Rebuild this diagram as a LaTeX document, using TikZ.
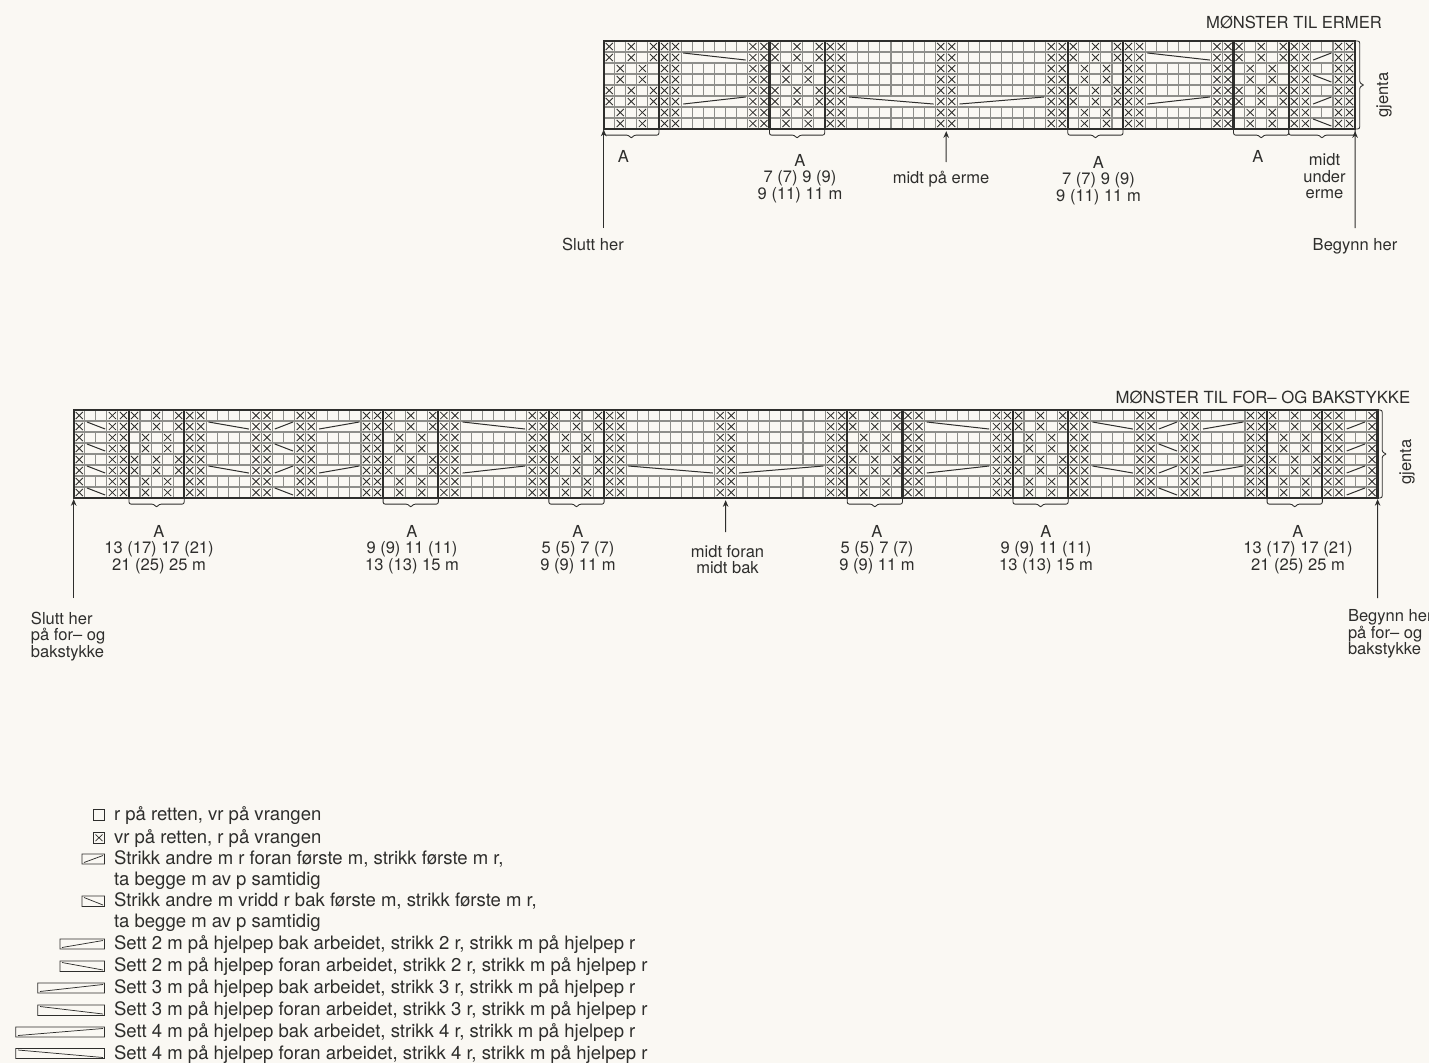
\documentclass[tikz,border=0pt]{standalone}
\usepackage{fontspec}
\setmainfont{TeX Gyre Heros}
\usetikzlibrary{arrows.meta}
\definecolor{paper}{HTML}{FAF8F3}
\definecolor{ink}{HTML}{2E2E2C}
\definecolor{gridc}{HTML}{8E8E8A}
\tikzset{
  txt/.style={inner sep=0pt,outer sep=0pt,text=ink,font=\fontsize{12.4}{12.4}\selectfont,align=center},
  keytxt/.style={inner sep=0pt,outer sep=0pt,text=ink,font=\fontsize{13.9}{13.9}\selectfont,anchor=base west,align=left},
  gridline/.style={draw=gridc,line width=0.8pt},
  xmark/.style={draw=ink,line width=0.65pt},
  heavy/.style={draw=ink,line width=1.7pt},
  slant/.style={draw=ink,line width=0.75pt},
  bracec/.style={draw=ink,line width=0.65pt,rounded corners=1.6pt},
  pointer/.style={draw=ink,line width=0.75pt,-{Stealth[length=5pt,width=4.2pt]}},
  keybox/.style={draw=ink,line width=0.55pt},
}
\newcommand\kX[2]{\draw[xmark] (#1+.18,#2+.18) -- (#1+.82,#2+.82) (#1+.18,#2+.82) -- (#1+.82,#2+.18);}
\newcommand\kXX[1]{\foreach \rr in {0,...,7} {\kX{#1}{\rr}\kX{#1+1}{\rr}}}
\newcommand\kA[1]{\foreach \pc/\pr in {0/0,2/0,4/0,0/1,2/1,4/1,1/2,3/2,1/3,3/3,0/4,2/4,4/4,0/5,2/5,4/5,1/6,3/6,1/7,3/7} {\kX{#1+\pc}{\pr}}}
\newcommand\kHeavyA[1]{\draw[heavy] (#1,0) -- (#1,8) (#1+5,0) -- (#1+5,8);}
\newcommand\kFill[3]{\fill[paper] (#1+.07,#3+.06) rectangle (#1+#2-.07,#3+.94);}
\newcommand\kDown[3]{\kFill{#1}{#2}{#3}\draw[slant] (#1+.2,#3+.09) -- (#1+#2-.15,#3+.73);}
\newcommand\kUp[3]{\kFill{#1}{#2}{#3}\draw[slant] (#1+.2,#3+.73) -- (#1+#2-.15,#3+.09);}
\newcommand\kGrid[1]{%
  \foreach \ii in {0,...,#1} {\draw[gridline] (\ii,0) -- (\ii,8);}
  \foreach \jj in {0,...,8} {\draw[gridline] (0,\jj) -- (#1,\jj);}}
\newcommand\kBrace[2]{\draw[bracec] (#1,8.1) -- (#1,8.56) -- ({(#1+#2)/2-.22},8.56) -- ({(#1+#2)/2},8.88) -- ({(#1+#2)/2+.22},8.56) -- (#2,8.56) -- (#2,8.1);}
\newcommand\kSide[1]{\draw[bracec] (#1,0) -- (#1+.42,0) -- (#1+.42,3.85) -- (#1+.85,4) -- (#1+.42,4.15) -- (#1+.42,8) -- (#1+.1,8);}
\begin{document}
\begin{tikzpicture}[x=.75pt,y=-.75pt]
\useasboundingbox (0,0) rectangle (1429,1063);
\fill[paper] (0,0) rectangle (1429,1063);

% ---------- sleeve chart
\begin{scope}[shift={(603.7,41)},x=8.2875pt,y=-8.25pt]
  \kGrid{68}
  \foreach \cc in {5,13,20,30,40,47,55,62,66} {\kXX{\cc}}
  \foreach \cc in {0,15,42,57} {\kA{\cc}}
  \foreach \cc in {7,49} {\kDown{\cc}{6}{1}\kUp{\cc}{6}{5}}
  \kDown{22}{8}{5}\kUp{32}{8}{5}
  \kUp{64}{2}{1}\kDown{64}{2}{3}\kUp{64}{2}{5}\kDown{64}{2}{7}
  \draw[heavy] (0,0) rectangle (68,8);
  \foreach \cc in {0,15,42,57} {\kHeavyA{\cc}}
  \foreach \cc in {0,15,42,57} {\kBrace{\cc}{\cc+5}}
  \kBrace{62}{68}
  \kSide{68}
  \coordinate (s-left) at (0,8.05);
  \coordinate (s-mid) at (31,8.2);
  \coordinate (s-right) at (68,8.2);
\end{scope}
\node[txt,font=\fontsize{12.45}{12.45}\selectfont] (s-title) at (1294,22) {MØNSTER TIL ERMER};
\node[txt] (s-a1) at (623.5,156) {A};
\node[txt] (s-a2) at (800,178.5) {A\\7 (7) 9 (9)\\9 (11) 11 m};
\node[txt] (s-midt) at (941,178.8) {midt på erme};
\node[txt] (s-a3) at (1098.5,180.3) {A\\7 (7) 9 (9)\\9 (11) 11 m};
\node[txt] (s-a4) at (1258,156.5) {A};
\node[txt] (s-under) at (1324.5,176.5) {midt\\under\\erme};
\node[txt,rotate=90] (s-gjenta) at (1384,95) {gjenta};
\node[txt] (s-slutt) at (593,244) {Slutt her};
\node[txt] (s-begynn) at (1355,246) {Begynn her};
\coordinate (s-leftfoot) at (603.7,228);
\coordinate (s-midfoot) at (946,162);
\coordinate (s-rightfoot) at (1355,228);
\draw[pointer] (s-leftfoot) -- (s-left);
\draw[pointer] (s-midfoot) -- (s-mid);
\draw[pointer] (s-rightfoot) -- (s-right);

% ---------- body chart
\begin{scope}[shift={(73.7,410)},x=8.2875pt,y=-8.25pt]
  \kGrid{118}
  \foreach \cc in {3,10,16,20,26,33,41,48,58,68,75,83,90,96,100,106,113} {\kXX{\cc}}
  \foreach \rr in {0,...,7} {\kX{0}{\rr}\kX{117}{\rr}}
  \foreach \cc in {5,28,43,70,85,108} {\kA{\cc}}
  \foreach \rr in {1,3,5,7} {\kDown{1}{2}{\rr}\kUp{115}{2}{\rr}}
  \foreach \cc in {12,92} {\kDown{\cc}{4}{1}\kDown{\cc}{4}{5}}
  \foreach \cc in {18,98} {\kUp{\cc}{2}{1}\kDown{\cc}{2}{3}\kUp{\cc}{2}{5}\kDown{\cc}{2}{7}}
  \foreach \cc in {22,102} {\kUp{\cc}{4}{1}\kUp{\cc}{4}{5}}
  \foreach \cc in {35,77} {\kDown{\cc}{6}{1}\kUp{\cc}{6}{5}}
  \kDown{50}{8}{5}\kUp{60}{8}{5}
  \draw[heavy] (0,0) rectangle (118,8);
  \foreach \cc in {5,28,43,70,85,108} {\kHeavyA{\cc}\kBrace{\cc}{\cc+5}}
  \kSide{118}
  \coordinate (b-left) at (0,8.1);
  \coordinate (b-mid) at (59,8.2);
  \coordinate (b-right) at (118,8.1);
\end{scope}
\node[txt,font=\fontsize{12.55}{12.55}\selectfont] (b-title) at (1263,397) {MØNSTER TIL FOR– OG BAKSTYKKE};
\node[txt] (b-a1) at (159,549.5) {A\\13 (17) 17 (21)\\21 (25) 25 m};
\node[txt] (b-a2) at (412,549.5) {A\\9 (9) 11 (11)\\13 (13) 15 m};
\node[txt] (b-a3) at (578,549.5) {A\\5 (5) 7 (7)\\9 (9) 11 m};
\node[txt] (b-midt) at (727.5,559.5) {midt foran\\midt bak};
\node[txt] (b-a4) at (877,549.5) {A\\5 (5) 7 (7)\\9 (9) 11 m};
\node[txt] (b-a5) at (1046,549.5) {A\\9 (9) 11 (11)\\13 (13) 15 m};
\node[txt] (b-a6) at (1298,549.5) {A\\13 (17) 17 (21)\\21 (25) 25 m};
\node[txt,rotate=90] (b-gjenta) at (1407,462) {gjenta};
\node[txt,align=left,anchor=north west] (b-slutt) at (31,612) {Slutt her\\på for– og\\bakstykke};
\node[txt,align=left,anchor=north west] (b-begynn) at (1348,609.5) {Begynn her\\på for– og\\bakstykke};
\coordinate (b-leftfoot) at (73.7,598);
\coordinate (b-midfoot) at (725.5,532);
\coordinate (b-rightfoot) at (1377.7,598);
\draw[pointer] (b-leftfoot) -- (b-left);
\draw[pointer] (b-midfoot) -- (b-mid);
\draw[pointer] (b-rightfoot) -- (b-right);

% ---------- key
\draw[keybox] (93.5,809.5) rectangle (104.5,820);
\draw[keybox] (93.5,832.5) rectangle (104.5,843);
\draw[keybox] (95.5,834.5) -- (102.5,841) (95.5,841) -- (102.5,834.5);
\draw[keybox] (82,854) rectangle (104.5,864) (84,862.5) -- (103,855.5);
\draw[keybox] (82,896) rectangle (104.5,906.5) (84,897.5) -- (103,905);
\draw[keybox] (60,939) rectangle (104.5,949) (62,947.5) -- (103,940.5);
\draw[keybox] (60,961) rectangle (104.5,971.5) (62,962.5) -- (103,970);
\draw[keybox] (37.7,983) rectangle (104.5,993) (40,991.5) -- (103,984.5);
\draw[keybox] (37.7,1005) rectangle (104.5,1015.5) (40,1006.5) -- (103,1014);
\draw[keybox] (15.7,1027) rectangle (104.5,1037) (18,1035.5) -- (103,1028.5);
\draw[keybox] (15.7,1048.5) rectangle (104.5,1058.5) (18,1050) -- (103,1057.5);
\node[keytxt] (k1) at (114,820) {r på retten, vr på vrangen};
\node[keytxt] (k2) at (114,843) {vr på retten, r på vrangen};
\node[keytxt] (k3) at (114,864) {Strikk andre m r foran første m, strikk første m r,};
\node[keytxt] (k3b) at (114,885) {ta begge m av p samtidig};
\node[keytxt] (k4) at (114,906) {Strikk andre m vridd r bak første m, strikk første m r,};
\node[keytxt] (k4b) at (114,927) {ta begge m av p samtidig};
\node[keytxt] (k5) at (114,949) {Sett 2 m på hjelpep bak arbeidet, strikk 2 r, strikk m på hjelpep r};
\node[keytxt] (k6) at (114,971) {Sett 2 m på hjelpep foran arbeidet, strikk 2 r, strikk m på hjelpep r};
\node[keytxt] (k7) at (114,993) {Sett 3 m på hjelpep bak arbeidet, strikk 3 r, strikk m på hjelpep r};
\node[keytxt] (k8) at (114,1015) {Sett 3 m på hjelpep foran arbeidet, strikk 3 r, strikk m på hjelpep r};
\node[keytxt] (k9) at (114,1037) {Sett 4 m på hjelpep bak arbeidet, strikk 4 r, strikk m på hjelpep r};
\node[keytxt] (k10) at (114,1059) {Sett 4 m på hjelpep foran arbeidet, strikk 4 r, strikk m på hjelpep r};
\end{tikzpicture}
\end{document}
